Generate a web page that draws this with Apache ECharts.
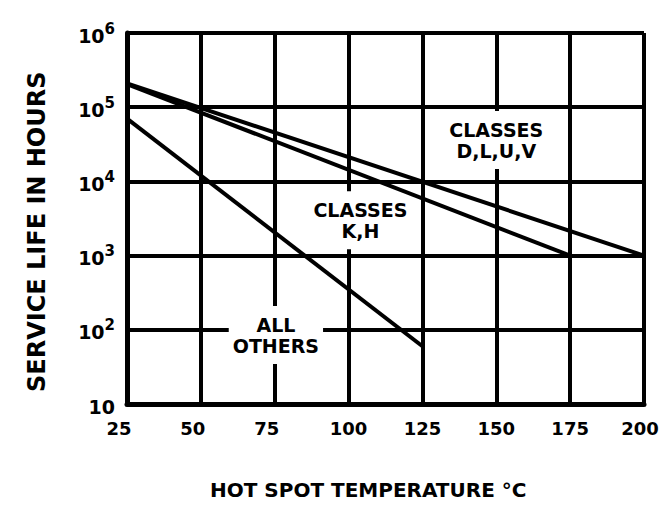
<!DOCTYPE html>
<html>
<head>
<meta charset="utf-8">
<script src="https://cdn.jsdelivr.net/npm/echarts@6/dist/echarts.min.js"></script>
<style>
html,body{margin:0;padding:0;background:#fff;}
#c{width:662px;height:506px;}
</style>
</head>
<body>
<div id="c"></div>
<script>
// ---- data ----
const xTicks = [25, 50, 75, 100, 125, 150, 175, 200];
const classesDLUV = [[25, 210000], [200, 1000]];
const classesKH = [[25, 205000], [175, 1000]];
const allOthers = [[25, 70000], [125, 60]];
const annotations = [
  [150, 36000, 'CLASSES\nD,L,U,V'],
  [104, 3000, 'CLASSES\nK,H'],
  [75.4, 85, 'ALL\nOTHERS']
];
const xTitle = 'HOT SPOT TEMPERATURE °C';
const yTitle = 'SERVICE LIFE IN HOURS';

const FONT = 'DejaVu Sans';
const chart = echarts.init(document.getElementById('c'), null, {renderer: 'svg'});

function lineSeries(name, data) {
  return {
    name: name, type: 'line', data: data, showSymbol: false, silent: true,
    lineStyle: {color: '#000', width: 4}, z: 3
  };
}

const xLabelStyle = {color: '#000', fontFamily: FONT, fontWeight: 'bold', fontSize: 18};

const option = {
  backgroundColor: '#fff',
  animation: false,
  grid: {left: 127, top: 33, right: 18, bottom: 102, containLabel: false, outerBoundsMode: 'none'},
  xAxis: {
    type: 'value', min: xTicks[0], max: xTicks[xTicks.length - 1], interval: 25,
    axisLine: {show: true, lineStyle: {color: '#000', width: 5}},
    axisTick: {show: false},
    splitLine: {show: true, lineStyle: {color: '#000', width: 4}},
    axisLabel: {
      margin: 15,
      formatter: function (v) {
        if (v < 100) return '{two|' + v + '}';
        if (v === 200) return '{last|' + v + '}';
        return '{n|' + v + '}';
      },
      rich: {
        n: xLabelStyle,
        two: Object.assign({padding: [0, 16, 0, 0]}, xLabelStyle),
        last: Object.assign({padding: [0, 8, 0, 0]}, xLabelStyle)
      }
    }
  },
  yAxis: {
    type: 'log', logBase: 10, min: 10, max: 1000000,
    axisLine: {show: true, lineStyle: {color: '#000', width: 5}},
    axisTick: {show: false},
    splitLine: {show: true, lineStyle: {color: '#000', width: 4}},
    axisLabel: {
      margin: 12,
      formatter: function (v) {
        const e = Math.round(Math.log10(v));
        return e === 1 ? '{b|10}' : '{b|10}{s|' + e + '}';
      },
      rich: {
        b: {color: '#000', fontFamily: FONT, fontWeight: 'bold', fontSize: 19, lineHeight: 24, verticalAlign: 'bottom'},
        s: {color: '#000', fontFamily: FONT, fontWeight: 'bold', fontSize: 15, lineHeight: 15, verticalAlign: 'top'}
      }
    }
  },
  series: [
    lineSeries('Classes D,L,U,V', classesDLUV),
    lineSeries('Classes K,H', classesKH),
    lineSeries('All others', allOthers),
    {
      type: 'scatter', symbolSize: 1, silent: true, z: 2,
      itemStyle: {opacity: 1, color: '#fff'},
      data: annotations.map(a => ({value: [a[0], a[1]], name: a[2]})),
      label: {
        show: true, position: 'inside', formatter: p => p.name, opacity: 1,
        color: '#000', fontFamily: FONT, fontWeight: 'bold', fontSize: 19, lineHeight: 21,
        align: 'center', backgroundColor: '#fff', padding: [8, 4, 8, 4]
      }
    }
  ],
  graphic: [
    {
      type: 'text', left: 210, top: 480,
      style: {text: xTitle, fill: '#000', font: 'bold 20px "DejaVu Sans"'}
    },
    {
      type: 'text', x: 25, y: 392, rotation: Math.PI / 2,
      style: {text: yTitle, fill: '#000', font: 'bold 24px "DejaVu Sans"', textAlign: 'left', textVerticalAlign: 'top'}
    }
  ]
};
chart.setOption(option);
</script>
</body>
</html>
